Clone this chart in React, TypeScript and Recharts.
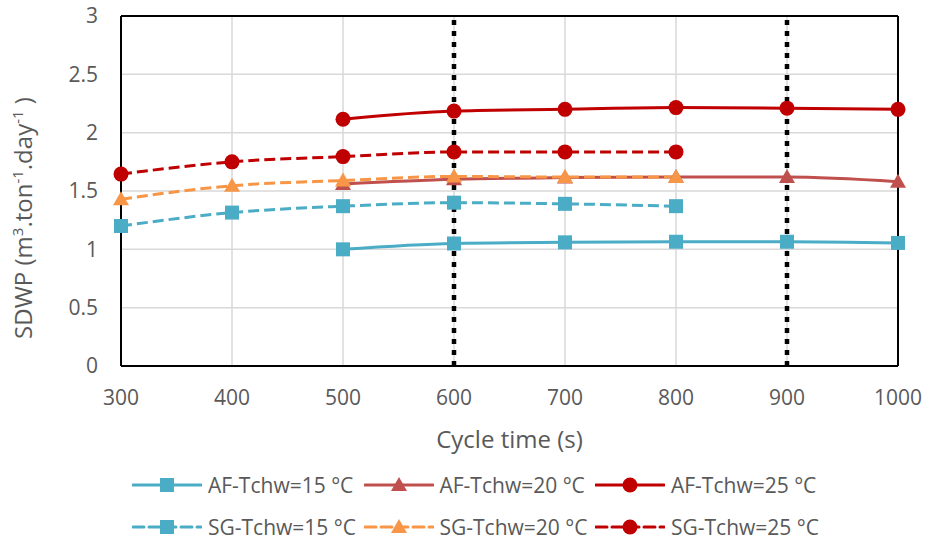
import React from 'react';
import { LineChart, Line, XAxis, YAxis, CartesianGrid, ReferenceLine, Legend } from 'recharts';

const cycleTimes = [300, 400, 500, 600, 700, 800, 900, 1000];
const af15 = [null, null, 1.0, 1.05, 1.06, 1.065, 1.065, 1.055];
const af20 = [null, null, 1.56, 1.6, 1.615, 1.62, 1.62, 1.58];
const af25 = [null, null, 2.115, 2.185, 2.2, 2.215, 2.21, 2.2];
const sg15 = [1.2, 1.315, 1.37, 1.4, 1.39, 1.37, null, null];
const sg20 = [1.43, 1.545, 1.59, 1.625, 1.62, 1.62, null, null];
const sg25 = [1.645, 1.75, 1.795, 1.835, 1.835, 1.835, null, null];
const xTicks = [300, 400, 500, 600, 700, 800, 900, 1000];
const yTicks = [0, 0.5, 1, 1.5, 2, 2.5, 3];
const dottedLines = [600, 900];

const FONT = "'Open Sans', sans-serif";
const TEXT = '#595959';

type Shape = 'square' | 'triangle' | 'circle';
const series: { key: string; name: string; color: string; dashed: boolean; shape: Shape; values: (number | null)[] }[] = [
  { key: 'af15', name: 'AF-Tchw=15 °C', color: '#4BACC6', dashed: false, shape: 'square', values: af15 },
  { key: 'af20', name: 'AF-Tchw=20 °C', color: '#C0504D', dashed: false, shape: 'triangle', values: af20 },
  { key: 'af25', name: 'AF-Tchw=25 °C', color: '#C00000', dashed: false, shape: 'circle', values: af25 },
  { key: 'sg15', name: 'SG-Tchw=15 °C', color: '#4BACC6', dashed: true, shape: 'square', values: sg15 },
  { key: 'sg20', name: 'SG-Tchw=20 °C', color: '#F79646', dashed: true, shape: 'triangle', values: sg20 },
  { key: 'sg25', name: 'SG-Tchw=25 °C', color: '#C00000', dashed: true, shape: 'circle', values: sg25 },
];

const data = cycleTimes.map((x, i) => {
  const row: Record<string, number | null> = { x };
  series.forEach((s) => {
    row[s.key] = s.values[i];
  });
  return row;
});

function marker(shape: Shape, color: string, cx: number, cy: number, key?: string | number) {
  if (shape === 'square') {
    return <rect key={key} x={cx - 7} y={cy - 7} width={14} height={14} fill={color} />;
  }
  if (shape === 'triangle') {
    return <polygon key={key} points={`${cx},${cy - 8} ${cx - 8},${cy + 6} ${cx + 8},${cy + 6}`} fill={color} />;
  }
  return <circle key={key} cx={cx} cy={cy} r={7.5} fill={color} />;
}

const makeDot = (shape: Shape, color: string) => (props: any) => {
  const { cx, cy, index } = props;
  if (cx == null || cy == null || props.value == null || (Array.isArray(props.value) && props.value[1] == null)) {
    return <g key={`e-${index}`} />;
  }
  return marker(shape, color, cx, cy, `d-${index}`);
};

const LegendContent = () => {
  const rows = [series.slice(0, 3), series.slice(3, 6)];
  return (
    <div style={{ width: 926, fontFamily: FONT }}>
      {rows.map((row, ri) => (
        <div key={ri} style={{ height: 42, display: 'flex', alignItems: 'center', paddingLeft: 132 }}>
          {row.map((s) => (
            <div key={s.key} style={{ width: 231.5, display: 'flex', alignItems: 'center' }}>
              <svg width={70} height={20} style={{ display: 'block' }}>
                <line
                  x1={1}
                  x2={69}
                  y1={10}
                  y2={10}
                  stroke={s.color}
                  strokeWidth={3}
                  strokeDasharray={s.dashed ? '11 5' : undefined}
                  strokeLinecap="round"
                />
                {marker(s.shape, s.color, 35, 10)}
              </svg>
              <span style={{ marginLeft: 6, fontSize: 21, color: TEXT, whiteSpace: 'nowrap', lineHeight: '24px' }}>
                {s.name}
              </span>
            </div>
          ))}
        </div>
      ))}
    </div>
  );
};

const YLabel = () => {
  const x = 32;
  const y = 218;
  return (
    <text
      x={x}
      y={y}
      transform={`rotate(-90 ${x} ${y})`}
      textAnchor="middle"
      fill={TEXT}
      fontSize={24}
      fontFamily={FONT}
    >
      <tspan>SDWP (m</tspan>
      <tspan fontSize={15} dy={-9}>3</tspan>
      <tspan dy={9}>.ton</tspan>
      <tspan fontSize={15} dy={-9}>-1</tspan>
      <tspan dy={9}>.day</tspan>
      <tspan fontSize={15} dy={-9}>-1</tspan>
      <tspan dy={9}> )</tspan>
    </text>
  );
};

const XLabel = (props: any) => {
  const vb = props.viewBox || {};
  const cx = vb.width != null ? vb.x + vb.width / 2 : 509.5;
  return (
    <text x={cx} y={448} textAnchor="middle" fill={TEXT} fontSize={24} fontFamily={FONT}>
      Cycle time (s)
    </text>
  );
};

export default function App() {
  return (
    <div style={{ position: 'absolute', left: 0, top: 0, width: 926, height: 545, background: '#fff' }}>
      <LineChart width={926} height={545} data={data} margin={{ top: 16, right: 28, left: 0, bottom: 119 }}>
        <CartesianGrid stroke="#d9d9d9" strokeWidth={1.5} vertical horizontal />
        <XAxis
          type="number"
          dataKey="x"
          domain={[300, 1000]}
          ticks={xTicks}
          interval={0}
          height={60}
          tickLine={false}
          tickSize={0}
          tickMargin={24}
          axisLine={{ stroke: '#000', strokeWidth: 2 }}
          tick={{ fill: TEXT, fontSize: 21, fontFamily: FONT }}
          label={<XLabel />}
        />
        <YAxis
          type="number"
          domain={[0, 3]}
          ticks={yTicks}
          interval={0}
          width={121}
          tickLine={false}
          tickSize={0}
          tickMargin={23}
          axisLine={{ stroke: '#000', strokeWidth: 2 }}
          tick={{ fill: TEXT, fontSize: 21, fontFamily: FONT }}
          label={<YLabel />}
        />
        <ReferenceLine y={3} stroke="#000" strokeWidth={2} />
        <ReferenceLine x={1000} stroke="#000" strokeWidth={2} />
        {series.map((s) => (
          <Line
            key={s.key}
            type="monotone"
            dataKey={s.key}
            name={s.name}
            stroke={s.color}
            strokeWidth={3}
            strokeDasharray={s.dashed ? '11 5' : undefined}
            dot={makeDot(s.shape, s.color)}
            activeDot={false}
            isAnimationActive={false}
            connectNulls={false}
          />
        ))}
        {dottedLines.map((v) => (
          <ReferenceLine key={v} x={v} stroke="#000" strokeWidth={4.5} strokeDasharray="5 6" />
        ))}
        <Legend
          layout="horizontal"
          verticalAlign="middle"
          align="center"
          content={<LegendContent />}
          wrapperStyle={{ top: 464, left: 0, width: 926 }}
        />
      </LineChart>
    </div>
  );
}
